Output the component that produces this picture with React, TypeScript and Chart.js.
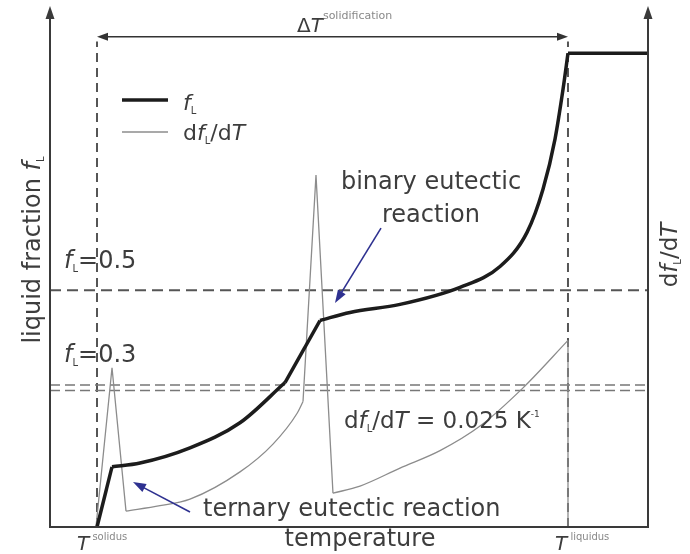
import React, { useEffect, useRef } from "react";
import { Chart, registerables } from "chart.js";

Chart.register(...registerables);

// Temperature runs on a normalised scale (0..100); the y axes are liquid fraction and its derivative.
const T_SOLIDUS = 7.86;
const T_LIQUIDUS = 86.62;
const T_MAX = 100;
const FL_MAX = 1.1;
const DFDT_MAX = 0.0955;

// liquid fraction f_L, segment by segment
const fLOnsetT = [7.86, 10.37];
const fLOnset = [0, 0.127];
const fLTernaryT = [10.37, 15.05, 23.41, 31.77, 39.3];
const fLTernary = [0.127, 0.135, 0.167, 0.22, 0.305];
const fLBinaryT = [39.3, 45.15];
const fLBinary = [0.305, 0.436];
const fLPrimaryT = [45.15, 50.17, 58.53, 68.56, 75.25, 79.77, 82.44, 84.45, 85.79, 86.62];
const fLPrimary = [0.436, 0.453, 0.47, 0.506, 0.55, 0.622, 0.713, 0.819, 0.924, 1.0];
const fLLiquidT = [86.62, 100];
const fLLiquid = [1, 1];

// derivative df_L/dT in K^-1
const dfTernaryPeakT = [7.69, 10.37, 12.71];
const dfTernaryPeak = [0, 0.0292, 0.0029];
const dfTernaryTailT = [12.71, 18.39, 23.41, 31.77, 37.29, 41.3, 42.31];
const dfTernaryTail = [0.0029, 0.0039, 0.0051, 0.0101, 0.0152, 0.0208, 0.023];
const dfBinaryPeakT = [42.31, 44.48, 47.32];
const dfBinaryPeak = [0.023, 0.0645, 0.0062];
const dfPrimaryT = [47.32, 51.84, 58.53, 65.22, 71.91, 79.1, 86.62];
const dfPrimary = [0.0062, 0.0075, 0.0108, 0.014, 0.0185, 0.0255, 0.0342];
const dfDropT = [86.62, 86.62];
const dfDrop = [0.0342, 0];

// reference levels
const FL_HALF = 0.5;
const FL_LOW = 0.3;
const DFDT_REF = 0.025;
const ARROW_LEVEL = 1.035;
const GUIDE_TOP = 1.025;

// annotation arrows (data coordinates: [T, f_L])
const binaryArrowFrom = [55.35, 0.631];
const binaryArrowTo = [47.66, 0.473];
const ternaryArrowFrom = [23.41, 0.0317];
const ternaryArrowTo = [13.88, 0.095];

const FONT = '"DejaVu Sans", sans-serif';
const TEXT = "#3d3d3d";
const NAVY = "#2e3190";

type Run = { t: string; s: number; i?: boolean; dy?: number; c?: string };

const pts = (xs: number[], ys: number[]) => xs.map((x, k) => ({ x, y: ys[k] }));

function setFont(ctx: CanvasRenderingContext2D, r: Run) {
  ctx.font = `${r.i ? "italic " : ""}${r.s}px ${FONT}`;
}

function runsWidth(ctx: CanvasRenderingContext2D, runs: Run[]) {
  let w = 0;
  for (const r of runs) {
    setFont(ctx, r);
    w += ctx.measureText(r.t).width;
  }
  return w;
}

function drawRuns(ctx: CanvasRenderingContext2D, runs: Run[], x: number, y: number, align: "left" | "center" = "left") {
  let cx = align === "center" ? x - runsWidth(ctx, runs) / 2 : x;
  ctx.textAlign = "left";
  ctx.textBaseline = "alphabetic";
  for (const r of runs) {
    setFont(ctx, r);
    ctx.fillStyle = r.c || TEXT;
    ctx.fillText(r.t, cx, y + (r.dy || 0));
    cx += ctx.measureText(r.t).width;
  }
}

function arrowHead(ctx: CanvasRenderingContext2D, tx: number, ty: number, fx: number, fy: number, len: number, hw: number) {
  const dx = tx - fx, dy = ty - fy;
  const d = Math.hypot(dx, dy) || 1;
  const ux = dx / d, uy = dy / d;
  const bx = tx - ux * len, by = ty - uy * len;
  ctx.beginPath();
  ctx.moveTo(tx, ty);
  ctx.lineTo(bx - uy * hw, by + ux * hw);
  ctx.lineTo(bx + uy * hw, by - ux * hw);
  ctx.closePath();
  ctx.fill();
}

function arrowLine(ctx: CanvasRenderingContext2D, x1: number, y1: number, x2: number, y2: number, len: number, hw: number) {
  const d = Math.hypot(x2 - x1, y2 - y1);
  const ux = (x2 - x1) / d, uy = (y2 - y1) / d;
  ctx.beginPath();
  ctx.moveTo(x1, y1);
  ctx.lineTo(x2 - ux * len * 0.8, y2 - uy * len * 0.8);
  ctx.stroke();
  arrowHead(ctx, x2, y2, x1, y1, len, hw);
}

const overlay = {
  id: "overlay",
  afterDatasetsDraw(chart: any) {
    const { ctx, chartArea: a, scales } = chart;
    const X = (v: number) => scales.x.getPixelForValue(v);
    const Y = (v: number) => scales.y.getPixelForValue(v);
    ctx.save();

    // frame with arrowed vertical axes
    ctx.strokeStyle = "#3a3a3a";
    ctx.fillStyle = "#3a3a3a";
    ctx.lineWidth = 2;
    ctx.beginPath();
    ctx.moveTo(a.left, a.top + 10);
    ctx.lineTo(a.left, a.bottom);
    ctx.lineTo(a.right, a.bottom);
    ctx.lineTo(a.right, a.top + 10);
    ctx.stroke();
    arrowHead(ctx, a.left, a.top, a.left, a.top + 20, 13, 4.5);
    arrowHead(ctx, a.right, a.top, a.right, a.top + 20, 13, 4.5);

    // solidification interval arrow
    const ay = Y(ARROW_LEVEL);
    const xs = X(T_SOLIDUS), xl = X(T_LIQUIDUS);
    ctx.lineWidth = 1.6;
    ctx.strokeStyle = "#333";
    ctx.fillStyle = "#333";
    ctx.beginPath();
    ctx.moveTo(xs + 8, ay);
    ctx.lineTo(xl - 8, ay);
    ctx.stroke();
    arrowHead(ctx, xs, ay, xl, ay, 11, 4);
    arrowHead(ctx, xl, ay, xs, ay, 11, 4);

    // blue pointer arrows
    ctx.strokeStyle = NAVY;
    ctx.fillStyle = NAVY;
    ctx.lineWidth = 1.6;
    arrowLine(ctx, X(binaryArrowFrom[0]), Y(binaryArrowFrom[1]), X(binaryArrowTo[0]), Y(binaryArrowTo[1]), 13, 4.5);
    arrowLine(ctx, X(ternaryArrowFrom[0]), Y(ternaryArrowFrom[1]), X(ternaryArrowTo[0]), Y(ternaryArrowTo[1]), 13, 4.5);

    // legend
    ctx.strokeStyle = "#1c1c1c";
    ctx.lineWidth = 3.5;
    ctx.beginPath();
    ctx.moveTo(122, 100);
    ctx.lineTo(168, 100);
    ctx.stroke();
    ctx.strokeStyle = "#8c8c8c";
    ctx.lineWidth = 1.3;
    ctx.beginPath();
    ctx.moveTo(122, 132);
    ctx.lineTo(168, 132);
    ctx.stroke();
    drawRuns(ctx, [{ t: "f", s: 22, i: true }, { t: "L", s: 10, dy: 4 }], 183, 110);
    drawRuns(ctx, [
      { t: "d", s: 22 }, { t: "f", s: 22, i: true }, { t: "L", s: 10, dy: 4 },
      { t: "/d", s: 22 }, { t: "T", s: 22, i: true },
    ], 183, 140);

    // texts
    drawRuns(ctx, [{ t: "Δ", s: 20 }, { t: "T", s: 20, i: true }, { t: "solidification", s: 11, dy: -13, c: "#888" }], 297, 32);
    drawRuns(ctx, [{ t: "binary eutectic", s: 24 }], 431, 189, "center");
    drawRuns(ctx, [{ t: "reaction", s: 24 }], 431, 222, "center");
    drawRuns(ctx, [{ t: "f", s: 24, i: true }, { t: "L", s: 10, dy: 4 }, { t: "=0.5", s: 24 }], 64, 268);
    drawRuns(ctx, [{ t: "f", s: 24, i: true }, { t: "L", s: 10, dy: 4 }, { t: "=0.3", s: 24 }], 64, 362);
    drawRuns(ctx, [
      { t: "d", s: 23 }, { t: "f", s: 23, i: true }, { t: "L", s: 10, dy: 4 },
      { t: "/d", s: 23 }, { t: "T", s: 23, i: true }, { t: " = 0.025 K", s: 23 }, { t: "-1", s: 9, dy: -11 },
    ], 344, 428);
    drawRuns(ctx, [{ t: "ternary eutectic reaction", s: 24 }], 203, 516);
    drawRuns(ctx, [{ t: "temperature", s: 24 }], 360, 546, "center");
    drawRuns(ctx, [{ t: "T", s: 20, i: true }, { t: " solidus", s: 10, dy: -10, c: "#888" }], 77, 550);
    drawRuns(ctx, [{ t: "T", s: 20, i: true }, { t: " liquidus", s: 10, dy: -10, c: "#888" }], 555, 550);

    // rotated axis titles
    ctx.save();
    ctx.translate(32, 250);
    ctx.rotate(-Math.PI / 2);
    drawRuns(ctx, [{ t: "liquid fraction ", s: 24 }, { t: "f", s: 24, i: true }, { t: "L", s: 10, dy: 4 }], 0, 8, "center");
    ctx.restore();
    ctx.save();
    ctx.translate(669, 255);
    ctx.rotate(-Math.PI / 2);
    drawRuns(ctx, [
      { t: "d", s: 23 }, { t: "f", s: 23, i: true }, { t: "L", s: 10, dy: 4 },
      { t: "/d", s: 23 }, { t: "T", s: 23, i: true },
    ], 0, 8, "center");
    ctx.restore();

    ctx.restore();
  },
};

export default function App() {
  const ref = useRef<HTMLCanvasElement | null>(null);

  useEffect(() => {
    if (!ref.current) return;
    const thick = { borderColor: "#1c1c1c", borderWidth: 3.5, pointRadius: 0, yAxisID: "y", order: 0, fill: false };
    const thin = { borderColor: "#8c8c8c", borderWidth: 1.3, pointRadius: 0, yAxisID: "y2", order: 1, fill: false };
    const guide = { pointRadius: 0, order: 2, fill: false, tension: 0 };
    const curve = { cubicInterpolationMode: "monotone" as const };
    const straight = { tension: 0 };

    const chart = new Chart(ref.current, {
      type: "line",
      data: {
        datasets: [
          { ...thick, ...straight, data: pts(fLOnsetT, fLOnset) },
          { ...thick, ...curve, data: pts(fLTernaryT, fLTernary) },
          { ...thick, ...straight, data: pts(fLBinaryT, fLBinary) },
          { ...thick, ...curve, data: pts(fLPrimaryT, fLPrimary) },
          { ...thick, ...straight, data: pts(fLLiquidT, fLLiquid) },
          { ...thin, ...straight, data: pts(dfTernaryPeakT, dfTernaryPeak) },
          { ...thin, ...curve, data: pts(dfTernaryTailT, dfTernaryTail) },
          { ...thin, ...straight, data: pts(dfBinaryPeakT, dfBinaryPeak) },
          { ...thin, ...curve, data: pts(dfPrimaryT, dfPrimary) },
          { ...thin, ...straight, data: pts(dfDropT, dfDrop) },
          { ...guide, yAxisID: "y", borderColor: "#555", borderWidth: 2, borderDash: [11, 6], data: pts([0, T_MAX], [FL_HALF, FL_HALF]) },
          { ...guide, yAxisID: "y", borderColor: "#777", borderWidth: 1.5, borderDash: [10, 5], data: pts([0, T_MAX], [FL_LOW, FL_LOW]) },
          { ...guide, yAxisID: "y2", borderColor: "#777", borderWidth: 1.5, borderDash: [10, 5], data: pts([0, T_MAX], [DFDT_REF, DFDT_REF]) },
          { ...guide, yAxisID: "y", borderColor: "#555", borderWidth: 2, borderDash: [9, 6], data: pts([T_SOLIDUS, T_SOLIDUS], [0, GUIDE_TOP]) },
          { ...guide, yAxisID: "y", borderColor: "#555", borderWidth: 2, borderDash: [9, 6], data: pts([T_LIQUIDUS, T_LIQUIDUS], [0, GUIDE_TOP]) },
        ] as any,
      },
      options: {
        animation: false,
        responsive: false,
        events: [],
        layout: { padding: { left: 50, right: 42, top: 6, bottom: 27 } },
        plugins: { legend: { display: false }, tooltip: { enabled: false } },
        scales: {
          x: { type: "linear", min: 0, max: T_MAX, display: false },
          y: { type: "linear", min: 0, max: FL_MAX, display: false },
          y2: { type: "linear", min: 0, max: DFDT_MAX, display: false, position: "right" },
        },
      },
      plugins: [overlay],
    });
    return () => chart.destroy();
  }, []);

  return (
    <div style={{ position: "absolute", left: 0, top: 0, width: 690, height: 554, background: "#fff" }}>
      <canvas ref={ref} width={690} height={554} style={{ display: "block" }} />
    </div>
  );
}
